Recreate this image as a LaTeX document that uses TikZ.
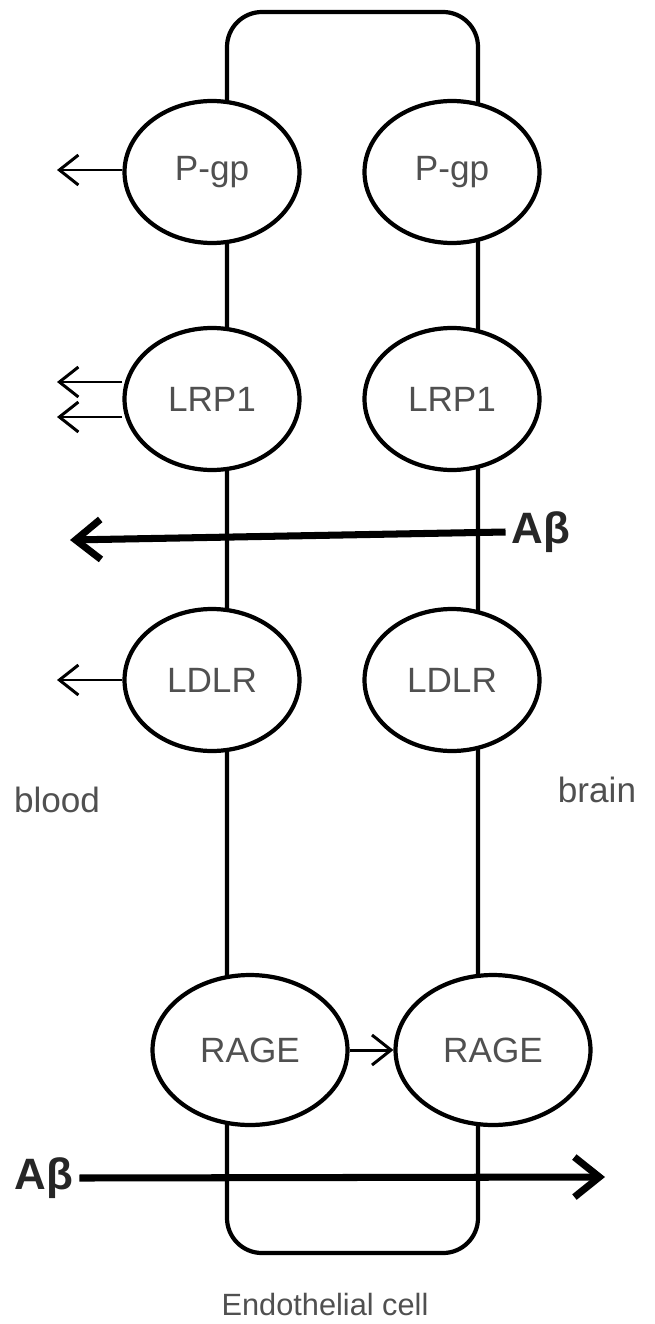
\documentclass[tikz,border=0pt]{standalone}
\usepackage{fontspec}
\setmainfont{Liberation Sans}
\usetikzlibrary{shapes.geometric,arrows.meta}

\definecolor{txtgray}{RGB}{80,80,80}

\begin{document}
\begin{tikzpicture}[x=0.02cm,y=-0.02cm,
  receptor/.style={ellipse,draw,fill=white,line width=2.4pt,inner sep=0pt,
    minimum width=3.5cm,minimum height=2.84cm,text=txtgray,
    font=\fontsize{20}{24}\selectfont},
  rage/.style={receptor,minimum width=3.9cm,minimum height=3cm},
  thinarr/.style={line width=1.7pt,-{Straight Barb[length=3.8mm,width=6mm]}},
  thickarr/.style={line width=4pt,-{Straight Barb[length=5mm,width=8mm]}},
  lbl/.style={text=txtgray,font=\fontsize{20}{24}\selectfont},
  ablbl/.style={font=\fontsize{25}{30}\selectfont\bfseries,text=black!85}]

\useasboundingbox (0,0) rectangle (655,1324);

\def\xl{212}
\def\xr{452}

% cell membrane
\draw[line width=2.4pt,rounded corners=0.7cm] (227,12) rectangle (478,1253);

% transporters on both sides
\node[receptor] (pgpL)  at (\xl,172) {P-gp};
\node[receptor] (pgpR)  at (\xr,172) {P-gp};
\node[receptor] (lrpL)  at (\xl,399) {LRP1};
\node[receptor] (lrpR)  at (\xr,399) {LRP1};
\node[receptor] (ldlrL) at (\xl,680) {LDLR};
\node[receptor] (ldlrR) at (\xr,680) {LDLR};
\node[rage] (rageL) at (250,1050) {RAGE};
\node[rage] (rageR) at (493,1050) {RAGE};

% efflux to blood
\coordinate (pgpOut)  at (57,170);
\coordinate (lrpOut1) at (57,382);
\coordinate (lrpOut2) at (57,417);
\coordinate (ldlrOut) at (57,680);
\draw[thinarr] (pgpL.west |- pgpOut) -- (pgpOut);
\draw[thinarr] (lrpL.west |- lrpOut1) -- (lrpOut1);
\draw[thinarr] (lrpL.west |- lrpOut2) -- (lrpOut2);
\draw[thinarr] (ldlrL.west |- ldlrOut) -- (ldlrOut);
\draw[thinarr] (rageL.east) -- (rageR.west);

% A-beta fluxes
\node[ablbl] (abTop) at (541,532) {Aβ};
\coordinate (abTopEnd) at (70,540);
\draw[thickarr] (abTop.west) -- (abTopEnd);

\node[ablbl] (abBot) at (44,1178) {Aβ};
\coordinate (abBotEnd) at (605,1177);
\draw[thickarr] (abBot.east) -- (abBotEnd);

% labels
\node[lbl] (blood) at (57,800) {blood};
\node[lbl] (brain) at (597,790) {brain};
\node[lbl,font=\fontsize{17.5}{21}\selectfont] (cell) at (325,1304) {Endothelial cell};

\end{tikzpicture}
\end{document}
